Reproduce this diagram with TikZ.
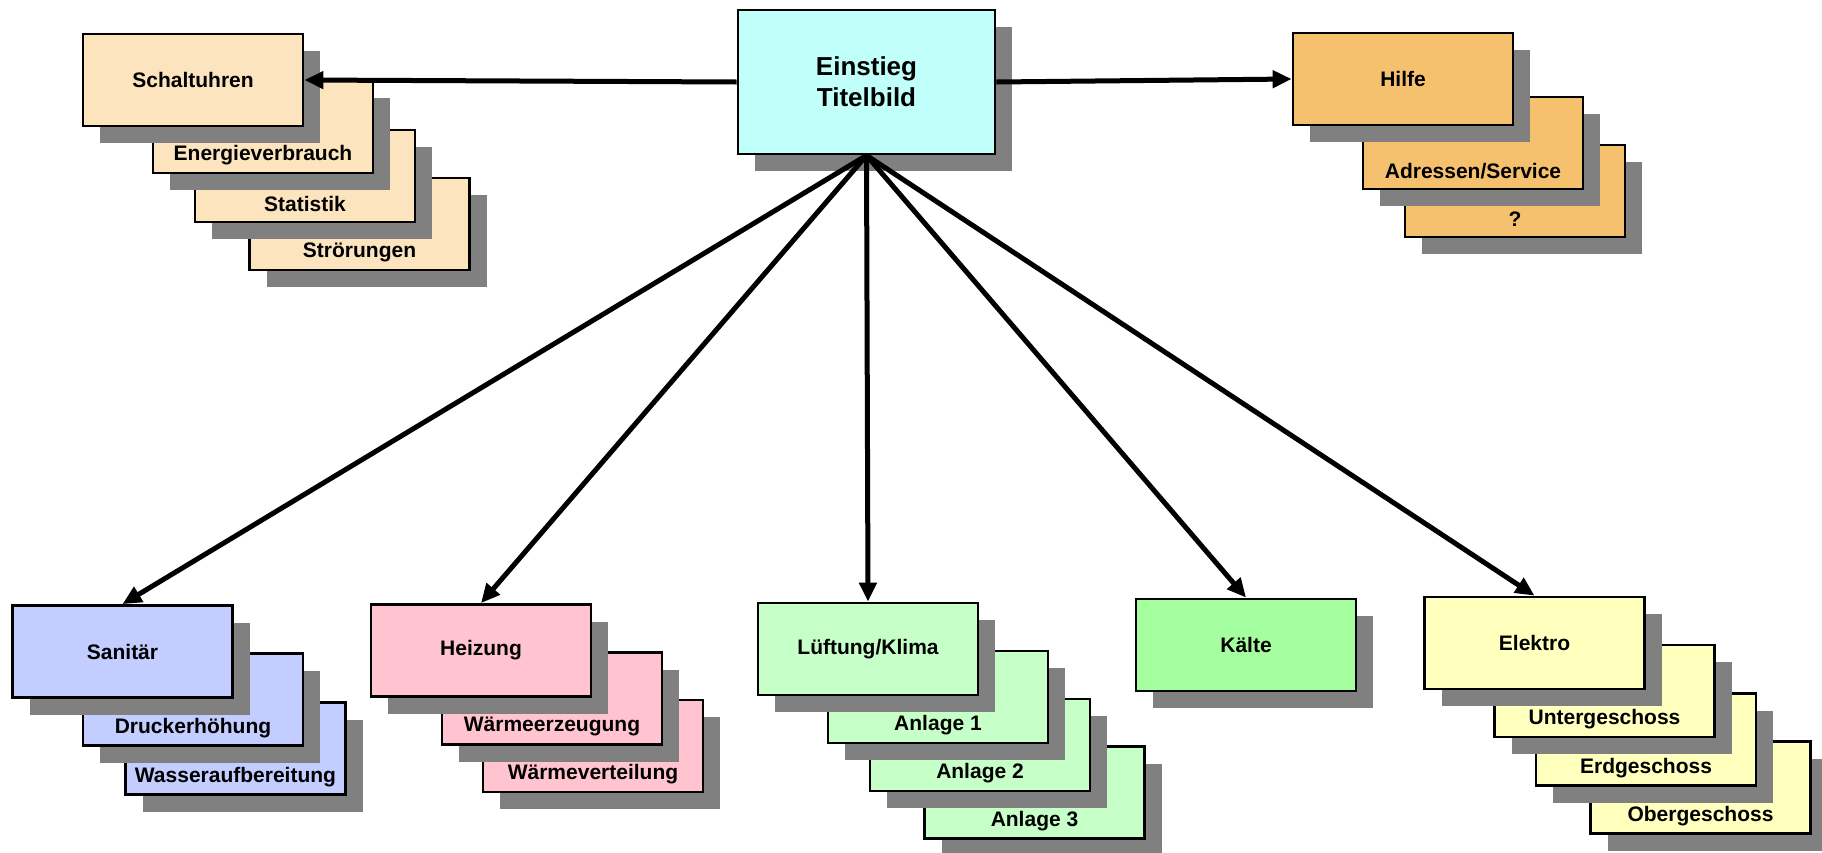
\documentclass[tikz,border=0pt]{standalone}
\usepackage{fontspec}
\setmainfont{Liberation Sans}
\usetikzlibrary{shadows,arrows.meta}
\definecolor{cPeach}{HTML}{FCE4BE}
\definecolor{cCyan}{HTML}{C0FFFA}
\definecolor{cOrange}{HTML}{F6C16E}
\definecolor{cBlue}{HTML}{C3CDFF}
\definecolor{cPink}{HTML}{FFC4D0}
\definecolor{cMint}{HTML}{C6FFC8}
\definecolor{cGreen}{HTML}{A6FF9E}
\definecolor{cYellow}{HTML}{FFFFBE}
\definecolor{shadowgray}{HTML}{808080}
\begin{document}
\begin{tikzpicture}[x=1pt,y=-1pt,
  card/.style={draw=black, line width=2.8pt, minimum width=220pt, minimum height=92pt,
    inner sep=0pt, font=\fontsize{21}{25}\selectfont\bfseries,
    drop shadow={shadow xshift=17pt, shadow yshift=-17pt, opacity=1, fill=shadowgray}},
  lowtext/.style={anchor=center, yshift=19pt, inner sep=0pt,
    font=\fontsize{21}{25}\selectfont\bfseries},
  conn/.style={line width=5pt, -{Triangle[length=19pt,width=17pt]}}
]
\useasboundingbox (0,0) rectangle (1822,852);

% Einstieg
\node[card, fill=cCyan, minimum width=257pt, minimum height=144pt, align=center,
  font=\fontsize{26}{31}\selectfont\bfseries] (ein) at (866.5,82) {Einstieg\\Titelbild};

% Schaltuhren group
\node[card, fill=cPeach, label={[lowtext]south:Strörungen}] (stoer) at (359.5,224) {};
\node[card, fill=cPeach, label={[lowtext]south:Statistik}] (stat) at (305,176) {};
\node[card, fill=cPeach, label={[lowtext]south:Energieverbrauch}] (energie) at (263,127) {};
\node[card, fill=cPeach] (schalt) at (193,80) {Schaltuhren};

% Hilfe group
\node[card, fill=cOrange, label={[lowtext]south:?}] (frage) at (1515,191) {};
\node[card, fill=cOrange, label={[lowtext]south:Adressen/Service}] (adr) at (1473,143) {};
\node[card, fill=cOrange] (hilfe) at (1403,79) {Hilfe};

% Sanitaer group
\node[card, fill=cBlue, label={[lowtext]south:Wasseraufbereitung}] (wasser) at (235.5,748.5) {};
\node[card, fill=cBlue, label={[lowtext]south:Druckerhöhung}] (druck) at (193,699.5) {};
\node[card, fill=cBlue] (san) at (122.5,651.5) {Sanitär};

% Heizung group
\node[card, fill=cPink, label={[lowtext]south:Wärmeverteilung}] (wvert) at (593,746) {};
\node[card, fill=cPink, label={[lowtext]south:Wärmeerzeugung}] (werz) at (552,698.5) {};
\node[card, fill=cPink] (heiz) at (481,650.5) {Heizung};

% Lueftung group
\node[card, fill=cMint, label={[lowtext]south:Anlage 3}] (anl3) at (1034.5,792.5) {};
\node[card, fill=cMint, label={[lowtext]south:Anlage 2}] (anl2) at (980,745) {};
\node[card, fill=cMint, label={[lowtext]south:Anlage 1}] (anl1) at (938,697) {};
\node[card, fill=cMint] (lueft) at (868,649) {Lüftung/Klima};

% Kaelte
\node[card, fill=cGreen] (kaelte) at (1246,645) {Kälte};

% Elektro group
\node[card, fill=cYellow, label={[lowtext]south:Obergeschoss}] (ober) at (1700.5,787.5) {};
\node[card, fill=cYellow, label={[lowtext]south:Erdgeschoss}] (erd) at (1646,739.5) {};
\node[card, fill=cYellow, label={[lowtext]south:Untergeschoss}] (unter) at (1604.5,691) {};
\node[card, fill=cYellow] (elektro) at (1534.5,643) {Elektro};

% connectors
\draw[conn] (ein.west) -- (schalt.east);
\draw[conn] (ein.east) -- (hilfe.west);
\draw[conn] (ein.south) -- (san.north);
\draw[conn] (ein.south) -- (heiz.north);
\draw[conn] (ein.south) -- (lueft.north);
\draw[conn] (ein.south) -- (kaelte.north);
\draw[conn] (ein.south) -- (elektro.north);
\end{tikzpicture}
\end{document}
